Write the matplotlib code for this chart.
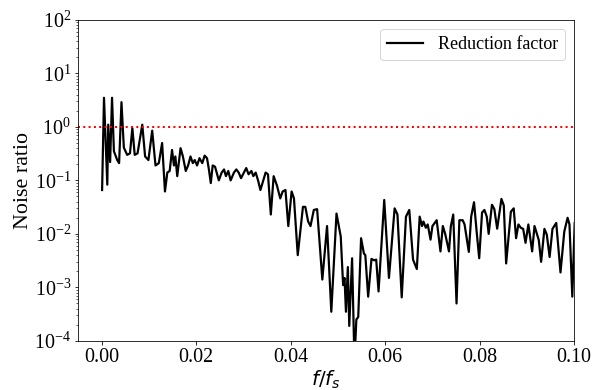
import matplotlib
matplotlib.use('Agg')
import matplotlib.pyplot as plt

plt.rcParams['font.family'] = ['Liberation Serif', 'DejaVu Serif']

# reduction factor vs normalised frequency
freq = [0.0001, 0.0005, 0.0012, 0.0014, 0.0018, 0.0022, 0.0026, 0.0033, 0.0037, 0.0042,
        0.0047, 0.0054, 0.0060, 0.0065, 0.0070, 0.0076, 0.0086, 0.0092, 0.0099, 0.0107,
        0.0114, 0.0121, 0.0128, 0.0134, 0.0139, 0.0144, 0.0149, 0.0153, 0.0156, 0.0160,
        0.0167, 0.0172, 0.0178, 0.0183, 0.0188, 0.0193, 0.0197, 0.0202, 0.0207, 0.0213,
        0.0218, 0.0223, 0.0227, 0.0231, 0.0235, 0.0240, 0.0248, 0.0254, 0.0259, 0.0263,
        0.0268, 0.0273, 0.0280, 0.0285, 0.0290, 0.0295, 0.0301, 0.0306, 0.0311, 0.0317,
        0.0321, 0.0326, 0.0331, 0.0336, 0.0347, 0.0352, 0.0358, 0.0364, 0.0371, 0.0378,
        0.0383, 0.0389, 0.0395, 0.0402, 0.0407, 0.0415, 0.0426, 0.0431, 0.0437, 0.0442,
        0.0449, 0.0456, 0.0467, 0.0477, 0.0486, 0.0497, 0.0506, 0.0511, 0.0514, 0.0517,
        0.0521, 0.0524, 0.0530, 0.0535, 0.0539, 0.0543, 0.0549, 0.0555, 0.0558, 0.0564,
        0.0571, 0.0577, 0.0581, 0.0586, 0.0598, 0.0608, 0.0620, 0.0626, 0.0635, 0.0644,
        0.0651, 0.0659, 0.0667, 0.0673, 0.0678, 0.0681, 0.0686, 0.0690, 0.0696, 0.0700,
        0.0709, 0.0717, 0.0722, 0.0727, 0.0735, 0.0739, 0.0744, 0.0751, 0.0757, 0.0764,
        0.0768, 0.0777, 0.0782, 0.0788, 0.0794, 0.0799, 0.0805, 0.0810, 0.0815, 0.0819,
        0.0826, 0.0831, 0.0837, 0.0846, 0.0851, 0.0856, 0.0866, 0.0872, 0.0877, 0.0882,
        0.0887, 0.0892, 0.0897, 0.0903, 0.0911, 0.0916, 0.0925, 0.0930, 0.0937, 0.0942,
        0.0948, 0.0954, 0.0962, 0.0971, 0.0979, 0.0986, 0.0990, 0.0996, 0.1001]
ratio = [0.066, 3.5, 0.083, 1.1, 0.22, 3.5, 0.35, 0.24, 0.21, 2.9,
         0.41, 0.30, 0.32, 0.95, 0.30, 0.32, 1.1, 0.28, 0.24, 0.85,
         0.19, 0.21, 0.5, 0.062, 0.14, 0.15, 0.37, 0.19, 0.28, 0.12,
         0.40, 0.28, 0.15, 0.19, 0.28, 0.21, 0.24, 0.19, 0.26, 0.21,
         0.29, 0.26, 0.16, 0.089, 0.19, 0.18, 0.10, 0.14, 0.16, 0.12,
         0.15, 0.10, 0.14, 0.16, 0.14, 0.11, 0.14, 0.17, 0.13, 0.15,
         0.12, 0.14, 0.10, 0.066, 0.14, 0.13, 0.023, 0.12, 0.08, 0.046,
         0.062, 0.066, 0.014, 0.062, 0.046, 0.004, 0.032, 0.032, 0.017, 0.014,
         0.028, 0.029, 0.0014, 0.014, 0.00035, 0.024, 0.0089, 0.0011, 0.0015, 0.00035,
         0.0024, 0.00019, 0.0035, 0.00004, 0.00025, 0.00028, 0.0083, 0.0043, 0.0040, 0.00067,
         0.0034, 0.0032, 0.0033, 0.00084, 0.043, 0.0015, 0.030, 0.023, 0.00065, 0.021,
         0.028, 0.0033, 0.0022, 0.021, 0.014, 0.017, 0.013, 0.015, 0.0078, 0.014,
         0.018, 0.0047, 0.014, 0.010, 0.0047, 0.014, 0.023, 0.0005, 0.018, 0.018,
         0.015, 0.0046, 0.021, 0.039, 0.010, 0.0035, 0.025, 0.028, 0.021, 0.0100,
         0.035, 0.029, 0.0125, 0.045, 0.034, 0.0028, 0.026, 0.030, 0.0083, 0.015,
         0.013, 0.0124, 0.0068, 0.015, 0.0047, 0.014, 0.0077, 0.0030, 0.0124, 0.0097,
         0.0037, 0.0124, 0.016, 0.0019, 0.011, 0.020, 0.015, 0.00067, 0.016]

fig = plt.figure(figsize=(600 / 72, 390 / 72), dpi=72)
ax = fig.add_axes([0.13, 0.126, 0.827, 0.823])

ax.semilogy(freq, ratio, color='k', linewidth=2.2, label='Reduction factor')
ax.axhline(1.0, color='r', linestyle=':', linewidth=2)

ax.set_xlim(-0.005, 0.1)
ax.set_ylim(1e-4, 1e2)
ax.set_xlabel('$f/f_s$', fontsize=20, labelpad=2)
ax.set_ylabel('Noise ratio', fontsize=22, labelpad=1)
ax.tick_params(labelsize=20)
ax.legend(loc='upper right', fontsize=18)

fig.savefig('out.png')
